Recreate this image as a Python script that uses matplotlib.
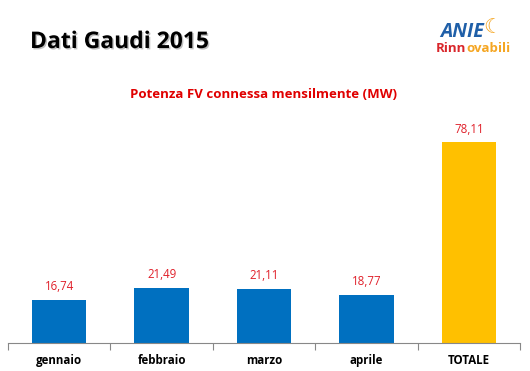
import matplotlib
matplotlib.use("Agg")
from matplotlib import pyplot as plt
from matplotlib import patheffects as pe

plt.rcParams['font.family'] = ['Open Sans', 'DejaVu Sans']

categorie = ["gennaio", "febbraio", "marzo", "aprile", "TOTALE"]
valori = [16.74, 21.49, 21.11, 18.77, 78.11]
etichette = ["16,74", "21,49", "21,11", "18,77", "78,11"]
colori = ["#0070C0", "#0070C0", "#0070C0", "#0070C0", "#FFC000"]

fig = plt.figure(figsize=(5.30, 3.71), dpi=100)
ax = fig.add_axes([8/530, 28/371, 512/530, 233/371])

x = range(len(categorie))
ax.bar(x, valori, color=colori, width=0.53)
for i, v in enumerate(valori):
    ax.text(i, v + 2.5, etichette[i], ha="center", va="bottom", color="#E0202A", fontsize=8.3)

ax.set_xlim(-0.5, len(categorie) - 0.5)
ax.set_ylim(0, 233/2.573)
ax.set_xticks([i - 0.5 for i in range(len(categorie) + 1)])
ax.set_xticklabels([])
ax.set_xticks(list(x), minor=True)
ax.set_xticklabels(categorie, minor=True, fontsize=8.3, fontweight="bold")
ax.tick_params(axis="x", which="major", length=5, color="#888888", direction="out")
ax.tick_params(axis="x", which="minor", length=0, pad=8)
ax.set_yticks([])
for s in ["top", "right", "left"]:
    ax.spines[s].set_visible(False)
ax.spines["bottom"].set_color("#888888")

# titoli
fig.text(30/530, 1 - 42/371, "Dati Gaudi 2015", fontsize=16.5, fontweight="bold",
         va="center", ha="left",
         path_effects=[pe.withSimplePatchShadow(offset=(1, -1), alpha=0.25)])
fig.text(263/530, 1 - 94/371, "Potenza FV connessa mensilmente (MW)", fontsize=9.5,
         fontweight="bold", color="#E00000", ha="center", va="center")

# logo
fig.text(440/530, 1 - 37/371, "ANIE", fontsize=14, fontweight="bold", style="italic",
         color="#1F5FA8", ha="left", va="baseline")
fig.text(493/530, 1 - 27/371, "☾", fontsize=15, color="#F5A623", ha="center", va="center",
         family="DejaVu Sans")
y_rinn = 1 - 52/371
rinn = fig.text(436/530, y_rinn, "Rinn", fontsize=9.5, fontweight="bold", color="#D9262B",
                ha="left", va="baseline")
ax.annotate("ovabili", xy=(1, y_rinn), xycoords=(rinn, "figure fraction"),
            xytext=(0, 0), textcoords="offset points",
            fontsize=9.5, fontweight="bold", color="#F5A623", ha="left", va="baseline",
            annotation_clip=False)

fig.savefig("out.png", dpi=100)
